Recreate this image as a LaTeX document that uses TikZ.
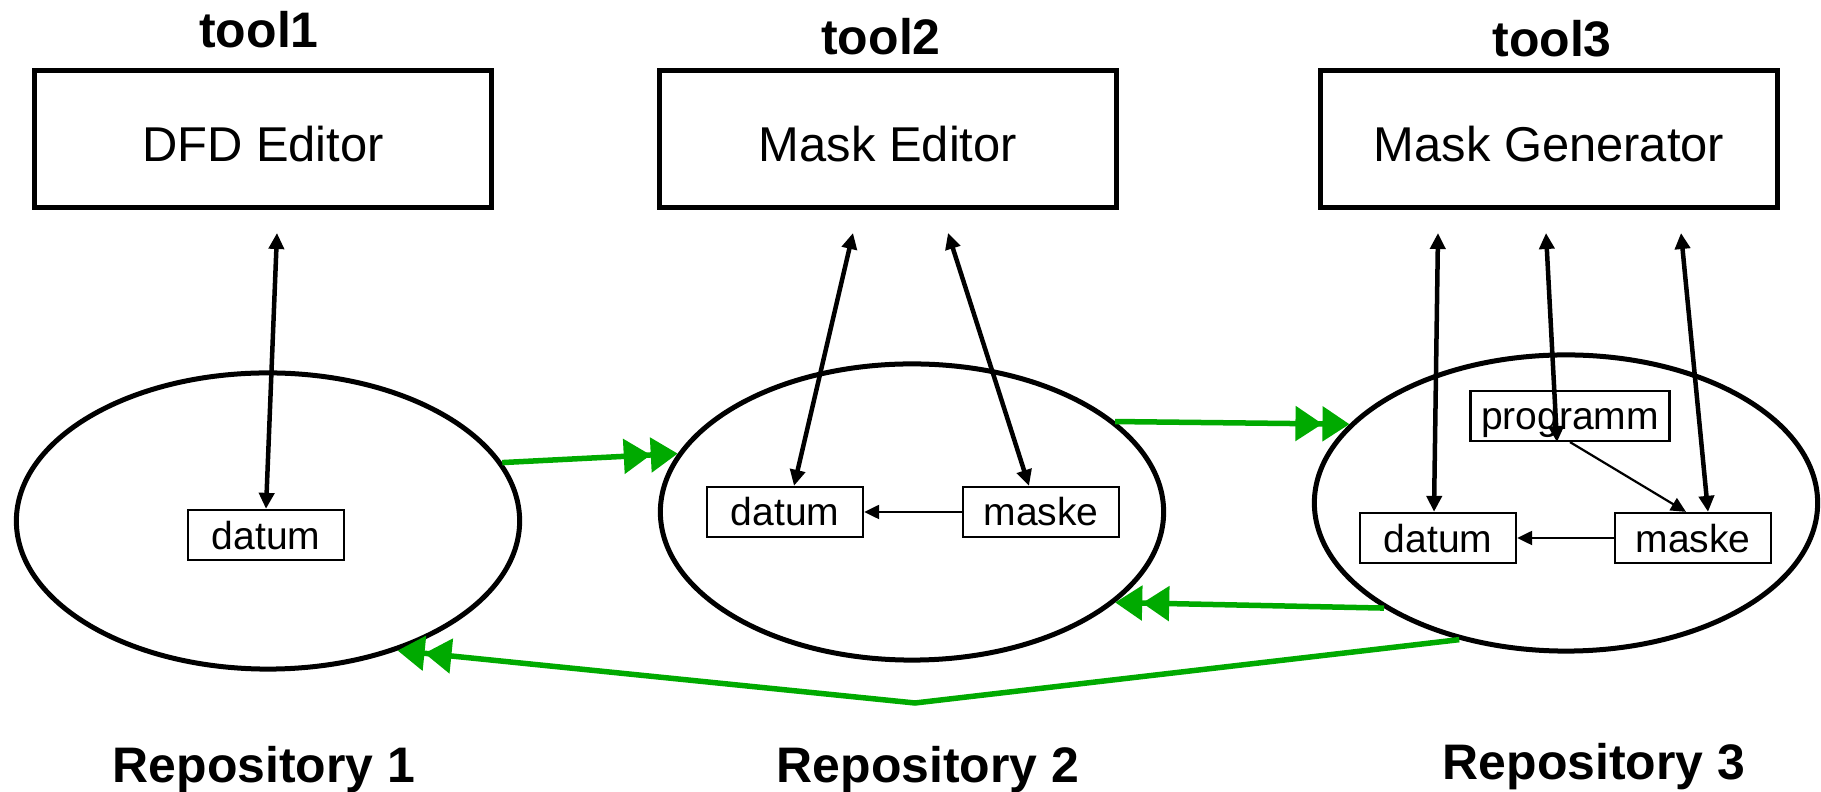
\documentclass[tikz,border=0pt]{standalone}
\usepackage{fontspec}
\setmainfont{Liberation Sans}
\usepackage{tikz}
\usetikzlibrary{shapes,arrows.meta}
\definecolor{flowgreen}{RGB}{0,170,0}

\begin{document}
\begin{tikzpicture}[x=0.01cm,y=-0.01cm]
    \tikzstyle{title}=[anchor=base,font=\bfseries\fontsize{14.2}{17}\selectfont]
    \tikzstyle{toolbox}=[draw,line width=0.045cm,minimum width=4.57cm,minimum height=1.37cm,text height=0.45cm,text depth=0pt,font=\fontsize{13.9}{16}\selectfont]
    \tikzstyle{repo}=[draw,ellipse,line width=0.05cm,minimum width=5.03cm,minimum height=2.96cm]
    \tikzstyle{obj}=[draw,line width=0.022cm,minimum width=1.56cm,minimum height=0.5cm,inner sep=0pt,text height=0.28cm,text depth=0pt,font=\fontsize{11.1}{13}\selectfont]
    \tikzstyle{access}=[{Triangle[length=0.16cm,width=0.15cm]}-{Triangle[length=0.16cm,width=0.15cm]},line width=0.045cm]
    \tikzstyle{uses}=[-{Triangle[length=0.15cm,width=0.14cm]},line width=0.022cm]
    \tikzstyle{flow}=[-{Triangle[length=0.27cm,width=0.34cm]Triangle[length=0.27cm,width=0.34cm]},line width=0.055cm,flowgreen]
    \useasboundingbox (0,0) rectangle (1821,792);

    \node[title] (tool1) at (259,48) {tool1};
    \node[title] (tool2) at (881,55) {tool2};
    \node[title] (tool3) at (1552,57) {tool3};
    \node[toolbox] (ed1) at (263,139) {DFD Editor};
    \node[toolbox] (ed2) at (888,139) {Mask Editor};
    \node[toolbox] (ed3) at (1549,139) {Mask Generator};

    \node[repo] (rep1) at (268,521) {};
    \node[repo] (rep2) at (912,512) {};
    \node[repo] (rep3) at (1566,503) {};
    \node[title] (repname1) at (264,783) {Repository 1};
    \node[title] (repname2) at (928,783) {Repository 2};
    \node[title] (repname3) at (1594,780) {Repository 3};

    \node[obj] (datum1) at (266,535) {datum};
    \node[obj] (datum2) at (785,512) {datum};
    \node[obj] (maske2) at (1041,512) {maske};
    \node[obj,minimum width=1.99cm] (prog3) at (1570,416) {programm};
    \node[obj] (datum3) at (1438,538) {datum};
    \node[obj] (maske3) at (1693,538) {maske};

    \coordinate (a1) at (277,233);
    \coordinate (a2) at (853,233);
    \coordinate (a3) at (948,233);
    \coordinate (a4) at (1438,233);
    \coordinate (a5) at (1546,233);
    \coordinate (a6) at (1681,233);
    \draw[access] (a1) -- (datum1.north);
    \draw[access] (a2) -- ([xshift=0.09cm]datum2.north);
    \draw[access] (a3) -- ([xshift=-0.12cm]maske2.north);
    \draw[access] (a4) -- ([xshift=-0.04cm]datum3.north);
    \draw[access] (a5) -- ([xshift=-0.13cm]prog3.south);
    \draw[access] (a6) -- ([xshift=0.15cm]maske3.north);
    \draw[uses] (maske2) -- (datum2);
    \draw[uses] (maske3) -- (datum3);
    \draw[uses] (prog3.south) -- ([xshift=-0.07cm]maske3.north);

    \coordinate (bend) at (915,703);
    \draw[flow] (rep1.14) -- (rep2.166);
    \draw[flow] (rep2.24) -- (rep3.160);
    \draw[flow] (rep3.210) -- (rep2.336);
    \draw[flow] (rep3.232) -- (bend) -- (rep1.315);
\end{tikzpicture}
\end{document}
